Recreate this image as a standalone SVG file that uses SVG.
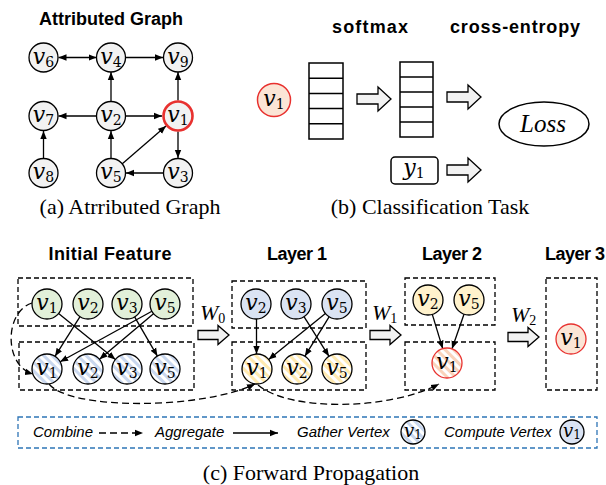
<svg xmlns="http://www.w3.org/2000/svg" width="606" height="485" viewBox="0 0 606 485">
<style>
.title{font-family:"Liberation Sans",Arial,sans-serif;font-weight:bold;font-size:18px;text-anchor:middle;fill:#000}
.cap{font-family:"Liberation Serif","Times New Roman",serif;font-size:22px;text-anchor:middle;fill:#000}
.leg{font-family:"Liberation Sans",Arial,sans-serif;font-style:italic;font-size:15px;fill:#000}
.v{font-family:"DejaVu Serif",serif;font-style:italic;font-size:22px;text-anchor:middle;fill:#000}
.vs{font-family:"DejaVu Serif",serif;font-style:italic;font-size:18px;text-anchor:middle;fill:#000}
.s{font-style:normal;font-size:14px}
.ss{font-style:normal;font-size:12px}
.w{font-family:"Liberation Serif","Times New Roman",serif;font-style:italic;font-size:22px;fill:#000}
.nd{stroke:#000;stroke-width:1.3}
.gray{fill:#f2f2f2}
.green{fill:#e2f0d9}
.blue{fill:#dae3f3}
.yellow{fill:#fff2cc}
.pink{fill:#fbe5d6}
.edge{stroke:#000;stroke-width:1.3;fill:none;marker-end:url(#ah)}
.comb{stroke:#000;stroke-width:1.3;fill:none;stroke-dasharray:7 4;marker-end:url(#ah)}
.box{fill:none;stroke:#000;stroke-width:1.3;stroke-dasharray:5 3}
.barrow{fill:#f2f2f2;stroke:#000;stroke-width:1.3}
.cell{fill:#fff;stroke:#000;stroke-width:1.5}
</style>
<defs>
<marker id="ah" viewBox="0 0 10 10" refX="10" refY="5" markerWidth="8" markerHeight="8" markerUnits="userSpaceOnUse" orient="auto-start-reverse">
<path d="M0,1 L10,5 L0,9 z" fill="#000"/>
</marker>
<pattern id="stBlue" width="6" height="6" patternUnits="userSpaceOnUse" patternTransform="rotate(-45)">
<rect width="6" height="6" fill="#fff"/><rect width="3" height="6" fill="#c9d7ee"/>
</pattern>
<pattern id="stYellow" width="6" height="6" patternUnits="userSpaceOnUse" patternTransform="rotate(-45)">
<rect width="6" height="6" fill="#fff"/><rect width="3" height="6" fill="#ffeab0"/>
</pattern>
<pattern id="stPink" width="6" height="6" patternUnits="userSpaceOnUse" patternTransform="rotate(-45)">
<rect width="6" height="6" fill="#fff"/><rect width="3" height="6" fill="#f9d3bb"/>
</pattern>
<path id="bigArrow" class="barrow" d="M0,-5 H21 V-12 L34,0 L21,12 V5 H0 Z"/>
<path id="wArrow" class="barrow" d="M0,-4.5 H20 V-9.5 L31,0 L20,9.5 V4.5 H0 Z"/>
</defs>
<rect width="606" height="485" fill="#fff"/>

<!-- (a) Attributed Graph -->
<text class="title" x="111" y="25" textLength="144">Attributed Graph</text>
<g id="a-edges">
<line class="edge" x1="58.5" y1="57.5" x2="96.5" y2="57.5" marker-start="url(#ah)"/>
<line class="edge" x1="126" y1="57.5" x2="163" y2="57.5"/>
<line class="edge" x1="111" y1="101.5" x2="111" y2="72"/>
<line class="edge" x1="96.5" y1="116" x2="58.5" y2="116"/>
<line class="edge" x1="126" y1="116" x2="162" y2="116"/>
<line class="edge" x1="178" y1="100.5" x2="178" y2="72"/>
<line class="edge" x1="178" y1="131.5" x2="178" y2="158"/>
<line class="edge" x1="163" y1="173" x2="126" y2="173"/>
<line class="edge" x1="111" y1="158" x2="111" y2="131"/>
<line class="edge" x1="43.5" y1="158" x2="43.5" y2="131"/>
<line class="edge" x1="122" y1="164" x2="166" y2="126"/>
</g>
<g id="a-v6"><circle class="nd gray" cx="43.5" cy="57.5" r="14.5"/><text class="v" x="43.5" y="63.5">v<tspan class="s" dy="3">6</tspan></text></g>
<g id="a-v4"><circle class="nd gray" cx="111" cy="57.5" r="14.5"/><text class="v" x="111" y="63.5">v<tspan class="s" dy="3">4</tspan></text></g>
<g id="a-v9"><circle class="nd gray" cx="178" cy="57.5" r="14.5"/><text class="v" x="178" y="63.5">v<tspan class="s" dy="3">9</tspan></text></g>
<g id="a-v7"><circle class="nd gray" cx="43.5" cy="116" r="14.5"/><text class="v" x="43.5" y="122">v<tspan class="s" dy="3">7</tspan></text></g>
<g id="a-v2"><circle class="nd gray" cx="111" cy="116" r="14.5"/><text class="v" x="111" y="122">v<tspan class="s" dy="3">2</tspan></text></g>
<g id="a-v1"><circle cx="178" cy="116" r="14.5" fill="#f2f2f2" stroke="#e8312f" stroke-width="2.6"/><text class="v" x="178" y="122">v<tspan class="s" dy="3">1</tspan></text></g>
<g id="a-v8"><circle class="nd gray" cx="43.5" cy="173" r="14.5"/><text class="v" x="43.5" y="179">v<tspan class="s" dy="3">8</tspan></text></g>
<g id="a-v5"><circle class="nd gray" cx="111" cy="173" r="14.5"/><text class="v" x="111" y="179">v<tspan class="s" dy="3">5</tspan></text></g>
<g id="a-v3"><circle class="nd gray" cx="178" cy="173" r="14.5"/><text class="v" x="178" y="179">v<tspan class="s" dy="3">3</tspan></text></g>
<text class="cap" x="130" y="214">(a) Atrributed Graph</text>

<!-- (b) Classification Task -->
<text class="title" x="370" y="33" textLength="76">softmax</text>
<text class="title" x="515" y="33" textLength="130">cross-entropy</text>
<g id="b-v1"><circle cx="274" cy="100" r="16.5" fill="#fbe5d6" stroke="#e8312f" stroke-width="1.5"/><text class="v" x="274" y="106">v<tspan class="s" dy="3">1</tspan></text></g>
<g id="b-vec1">
<rect class="cell" x="309" y="63" width="34" height="76"/>
<path d="M309,78.2H343M309,93.4H343M309,108.6H343M309,123.8H343" stroke="#000" stroke-width="1.5"/>
</g>
<g id="b-vec2">
<rect class="cell" x="400" y="62" width="33" height="75"/>
<path d="M400,77H433M400,92H433M400,107H433M400,122H433" stroke="#000" stroke-width="1.5"/>
</g>
<g id="b-arrows">
<use href="#bigArrow" x="357" y="99"/>
<use href="#bigArrow" x="447" y="97"/>
<use href="#bigArrow" x="447" y="170"/>
</g>
<g id="b-loss"><ellipse cx="544" cy="124" rx="45" ry="22" fill="#fff" stroke="#000" stroke-width="1.5"/><text x="543" y="132" font-family="'Liberation Serif','Times New Roman',serif" font-style="italic" font-size="25" text-anchor="middle">Loss</text></g>
<g id="b-y1"><rect x="391" y="157" width="47" height="27" rx="4" fill="#fff" stroke="#000" stroke-width="1.5"/><text class="v" x="414" y="175">y<tspan class="s" dy="3">1</tspan></text></g>
<text class="cap" x="430" y="214">(b) Classification Task</text>

<!-- (c) Forward Propagation -->
<text class="title" x="110" y="260" textLength="123">Initial Feature</text>
<text class="title" x="297" y="260" textLength="60">Layer 1</text>
<text class="title" x="452" y="260" textLength="60">Layer 2</text>
<text class="title" x="575" y="260" textLength="60">Layer 3</text>
<g id="c-boxes">
<rect class="box" x="18" y="278" width="175" height="48"/>
<rect class="box" x="19" y="342" width="175" height="48"/>
<rect class="box" x="232" y="281" width="134" height="47"/>
<rect class="box" x="232" y="342" width="134" height="48"/>
<rect class="box" x="405" y="278" width="90" height="47"/>
<rect class="box" x="405" y="342" width="90" height="48"/>
<rect class="box" x="546" y="278" width="51" height="112"/>
</g>
<g id="c-weights">
<use href="#wArrow" x="198" y="335"/>
<use href="#wArrow" x="370" y="335"/>
<use href="#wArrow" x="508" y="337"/>
<text class="w" x="200" y="320">W<tspan class="s" font-style="normal" dy="3">0</tspan></text>
<text class="w" x="372" y="320">W<tspan class="s" font-style="normal" dy="3">1</tspan></text>
<text class="w" x="511" y="322">W<tspan class="s" font-style="normal" dy="3">2</tspan></text>
</g>
<g id="c-edges">
<line class="edge" x1="58.6" y1="313.5" x2="115.4" y2="359.5"/>
<line class="edge" x1="80" y1="316.7" x2="55" y2="356.3"/>
<line class="edge" x1="151.9" y1="311.2" x2="60.1" y2="361.8"/>
<line class="edge" x1="153.5" y1="313.7" x2="99.5" y2="359.3"/>
<line class="edge" x1="134.6" y1="316.9" x2="157.4" y2="356.1"/>
<line class="edge" x1="256.5" y1="319" x2="256.5" y2="354"/>
<line class="edge" x1="325.4" y1="313.5" x2="268.6" y2="359.5"/>
<line class="edge" x1="329.1" y1="316.8" x2="304.9" y2="356.2"/>
<line class="edge" x1="304" y1="316.7" x2="329" y2="356.3"/>
<line class="edge" x1="432.3" y1="314.4" x2="442.7" y2="348.6"/>
<line class="edge" x1="464" y1="314.2" x2="452" y2="348.8"/>
<path class="comb" d="M32,303 C4,312 4,366 33,374"/>
<path class="comb" d="M49,384 C70,410 200,410 255,384"/>
<path class="comb" d="M258,385 C290,412 390,410 439,384"/>
</g>
<g id="c-init-v1"><circle class="nd green" cx="47" cy="304" r="15"/><text class="v" x="47" y="310">v<tspan class="s" dy="3">1</tspan></text></g>
<g id="c-init-v2"><circle class="nd green" cx="88" cy="304" r="15"/><text class="v" x="88" y="310">v<tspan class="s" dy="3">2</tspan></text></g>
<g id="c-init-v3"><circle class="nd green" cx="127" cy="304" r="15"/><text class="v" x="127" y="310">v<tspan class="s" dy="3">3</tspan></text></g>
<g id="c-init-v5"><circle class="nd green" cx="165" cy="304" r="15"/><text class="v" x="165" y="310">v<tspan class="s" dy="3">5</tspan></text></g>
<g id="c-init-g1"><circle class="nd" fill="url(#stBlue)" cx="47" cy="369" r="15"/><text class="v" x="47" y="375">v<tspan class="s" dy="3">1</tspan></text></g>
<g id="c-init-g2"><circle class="nd" fill="url(#stBlue)" cx="88" cy="369" r="15"/><text class="v" x="88" y="375">v<tspan class="s" dy="3">2</tspan></text></g>
<g id="c-init-g3"><circle class="nd" fill="url(#stBlue)" cx="127" cy="369" r="15"/><text class="v" x="127" y="375">v<tspan class="s" dy="3">3</tspan></text></g>
<g id="c-init-g5"><circle class="nd" fill="url(#stBlue)" cx="165" cy="369" r="15"/><text class="v" x="165" y="375">v<tspan class="s" dy="3">5</tspan></text></g>
<g id="c-l1-v2"><circle class="nd blue" cx="256" cy="304" r="15"/><text class="v" x="256" y="310">v<tspan class="s" dy="3">2</tspan></text></g>
<g id="c-l1-v3"><circle class="nd blue" cx="296" cy="304" r="15"/><text class="v" x="296" y="310">v<tspan class="s" dy="3">3</tspan></text></g>
<g id="c-l1-v5"><circle class="nd blue" cx="337" cy="304" r="15"/><text class="v" x="337" y="310">v<tspan class="s" dy="3">5</tspan></text></g>
<g id="c-l1-g1"><circle class="nd" fill="url(#stYellow)" cx="257" cy="369" r="15"/><text class="v" x="257" y="375">v<tspan class="s" dy="3">1</tspan></text></g>
<g id="c-l1-g2"><circle class="nd" fill="url(#stYellow)" cx="297" cy="369" r="15"/><text class="v" x="297" y="375">v<tspan class="s" dy="3">2</tspan></text></g>
<g id="c-l1-g5"><circle class="nd" fill="url(#stYellow)" cx="337" cy="369" r="15"/><text class="v" x="337" y="375">v<tspan class="s" dy="3">5</tspan></text></g>
<g id="c-l2-v2"><circle class="nd yellow" cx="428" cy="300" r="15"/><text class="v" x="428" y="306">v<tspan class="s" dy="3">2</tspan></text></g>
<g id="c-l2-v5"><circle class="nd yellow" cx="469" cy="300" r="15"/><text class="v" x="469" y="306">v<tspan class="s" dy="3">5</tspan></text></g>
<g id="c-l2-g1"><circle fill="url(#stPink)" stroke="#e8312f" stroke-width="1.3" cx="447" cy="363" r="15"/><text class="v" x="447" y="369">v<tspan class="s" dy="3">1</tspan></text></g>
<g id="c-l3-v1"><circle class="pink" stroke="#e8312f" stroke-width="1.3" cx="571" cy="339" r="15"/><text class="v" x="571" y="345">v<tspan class="s" dy="3">1</tspan></text></g>

<!-- Legend -->
<g id="legend">
<rect x="18" y="417" width="579" height="31" fill="none" stroke="#2e75b6" stroke-width="1.3" stroke-dasharray="5 3"/>
<text class="leg" x="33" y="437">Combine</text>
<line class="comb" x1="99" y1="433" x2="143" y2="433" stroke-dasharray="9 4"/>
<text class="leg" x="155" y="437">Aggregate</text>
<line class="edge" x1="233" y1="433" x2="278" y2="433"/>
<text class="leg" x="297" y="437">Gather Vertex</text>
<circle class="nd" fill="url(#stBlue)" cx="413" cy="432" r="12"/>
<text class="vs" x="413" y="437">v<tspan class="ss" dy="2">1</tspan></text>
<text class="leg" x="444" y="437">Compute Vertex</text>
<circle class="nd blue" cx="572" cy="432" r="12"/>
<text class="vs" x="572" y="437">v<tspan class="ss" dy="2">1</tspan></text>
</g>
<text class="cap" x="311" y="480">(c) Forward Propagation</text>
</svg>
